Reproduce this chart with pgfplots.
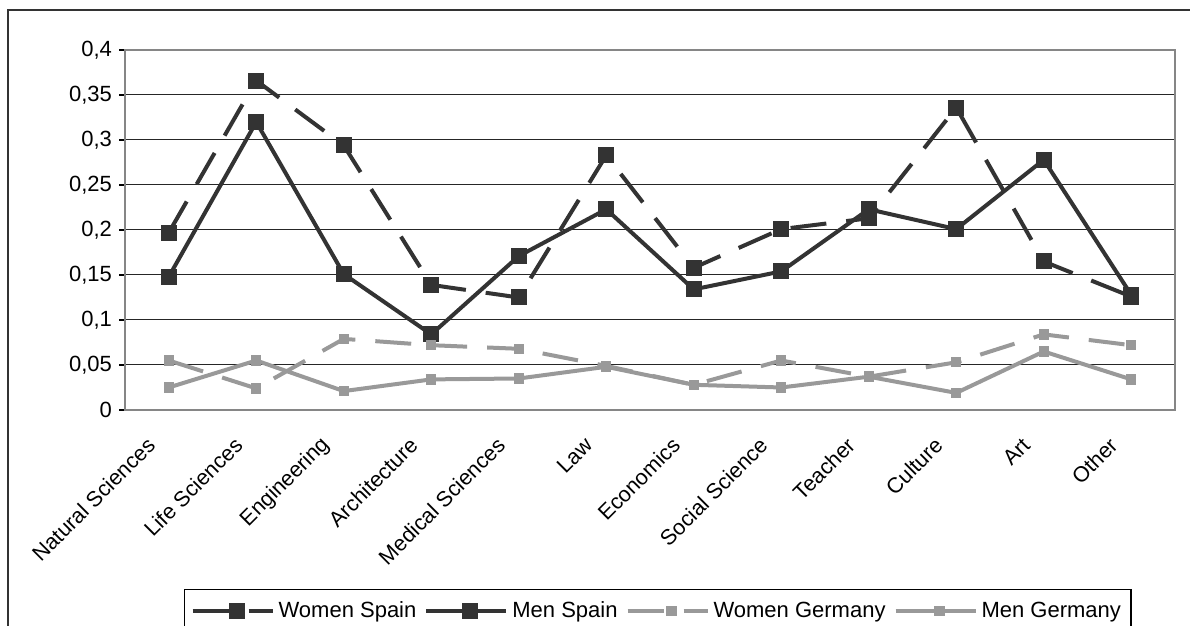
\documentclass[border=0pt]{standalone}
\usepackage{pgfplots}
\pgfplotsset{compat=1.18}
\usepackage{fontspec}
\setmainfont{Liberation Sans}
\definecolor{dk}{HTML}{333333}
\definecolor{lg}{HTML}{999999}
\definecolor{axc}{HTML}{868686}
\begin{document}
\begin{tikzpicture}
\begin{axis}[
  at={(62.5pt,108pt)}, anchor=south west,
  scale only axis, width=525pt, height=180pt,
  xmin=-0.5, xmax=11.5, ymin=0, ymax=0.4,
  xtick={0,1,2,3,4,5,6,7,8,9,10,11},
  xticklabels={Natural Sciences, Life Sciences, Engineering, Architecture, Medical Sciences, Law, Economics, Social Science, Teacher, Culture, Art, Other},
  x tick style={draw=none},
  xticklabel style={xshift=-8pt, yshift=-12pt, rotate=45, anchor=east, font=\fontsize{10.8}{12}\selectfont, inner sep=1pt},
  ytick={0,0.05,0.1,0.15,0.2,0.25,0.3,0.35,0.4},
  scaled y ticks=false,
  yticklabel style={font=\fontsize{11}{13}\selectfont, /pgf/number format/use comma, /pgf/number format/fixed, /pgf/number format/precision=2, /pgf/number format/assume math mode=true},
  ytick pos=left,
  tick align=outside, major tick length=3pt,
  y tick style={black, line width=0.6pt},
  ymajorgrids, major grid style={draw=black!85, line width=0.5pt},
  axis line style={axc, line width=1pt},
  legend columns=4,
  legend style={at={(0.0562,-0.497)}, anchor=north west, draw=black, line width=0.6pt,
    font=\fontsize{11}{13}\selectfont, inner xsep=3pt, inner ysep=4pt,
    /tikz/every even column/.append style={column sep=2pt}},
  legend cell align=left,
  legend image code/.code={\draw[mark repeat=2, mark phase=2, #1] plot coordinates {(0pt,0pt) (22pt,0pt) (40pt,0pt)};},
]
\addplot[dk, line width=2pt, dash pattern=on 18pt off 10pt, mark=square*, mark size=3pt, mark options={solid, fill=dk}] coordinates {
(0,0.197) (1,0.366) (2,0.294) (3,0.139) (4,0.125) (5,0.283) (6,0.158) (7,0.201) (8,0.213) (9,0.336) (10,0.165) (11,0.126)};
\addlegendentry{Women Spain}
\addplot[dk, line width=2pt, mark=square*, mark size=3pt, mark options={solid, fill=dk}] coordinates {
(0,0.148) (1,0.320) (2,0.151) (3,0.084) (4,0.171) (5,0.223) (6,0.134) (7,0.154) (8,0.223) (9,0.201) (10,0.278) (11,0.128)};
\addlegendentry{Men Spain}
\addplot[lg, line width=2pt, dash pattern=on 18pt off 10pt, mark=square*, mark size=1.6pt, mark options={solid, fill=lg}] coordinates {
(0,0.055) (1,0.024) (2,0.079) (3,0.072) (4,0.068) (5,0.049) (6,0.028) (7,0.055) (8,0.037) (9,0.053) (10,0.084) (11,0.072)};
\addlegendentry{Women Germany}
\addplot[lg, line width=2pt, mark=square*, mark size=1.6pt, mark options={solid, fill=lg}] coordinates {
(0,0.025) (1,0.055) (2,0.021) (3,0.034) (4,0.035) (5,0.048) (6,0.028) (7,0.025) (8,0.037) (9,0.019) (10,0.065) (11,0.034)};
\addlegendentry{Men Germany}
\end{axis}
\draw[dk, line width=1pt] (4pt,-20pt) -- (4pt,308pt) -- (620pt,308pt);
\pgfresetboundingbox
\useasboundingbox (0,0) rectangle (595pt,313pt);
\end{tikzpicture}
\end{document}
